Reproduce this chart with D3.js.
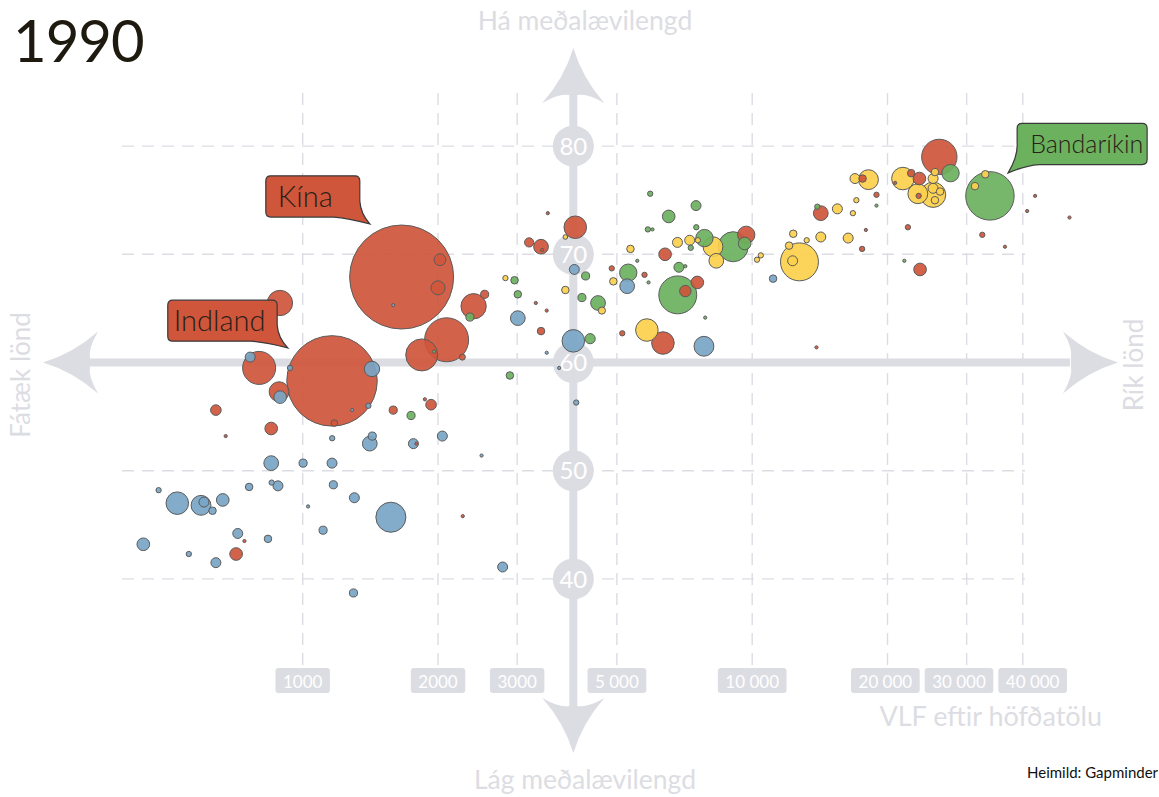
<!DOCTYPE html>
<html>
<head>
<meta charset="utf-8">
<script src="https://cdn.jsdelivr.net/npm/d3@7"></script>
<style>
  html, body { margin: 0; padding: 0; background: #fff; }
  svg { display: block; font-family: Lato, "Open Sans", sans-serif; }
</style>
</head>
<body>
<svg id="chart" width="1159" height="797"></svg>
<script>
// ---------------- DATA ----------------
const year = "1990";
const xTicks = [1000, 2000, 3000, 5000, 10000, 20000, 30000, 40000];
const xTickLabels = ["1000", "2000", "3000", "5 000", "10 000", "20 000", "30 000", "40 000"];
const yTicks = [40, 50, 60, 70, 80];
const yTickLabels = ["40", "50", "60", "70", "80"];

// [GDP per capita, life expectancy, population (millions)]
const asia = [
  [1660, 67.9, 1150], [2020, 69.5, 15], [2000, 66.9, 21], [890, 65.5, 68],
  [1162, 58.3, 870], [800, 59.5, 116], [886, 57.3, 42], [1176, 54.4, 4.7],
  [641, 55.6, 12], [851, 53.9, 17], [1590, 55.6, 7], [1930, 56.1, 12],
  [1840, 60.7, 109], [2090, 62.1, 206], [2400, 65.2, 68], [2540, 66.3, 7],
  [2265, 60.5, 4], [3390, 62.9, 6], [3190, 71.1, 9], [3390, 70.7, 23],
  [4040, 72.5, 54], [6400, 70.0, 17], [4870, 68.7, 3], [5760, 68.1, 3],
  [9700, 71.8, 32], [7100, 66.6, 14], [7550, 67.4, 17], [6330, 61.8, 54],
  [5140, 62.7, 3], [17560, 70.5, 3], [14210, 73.8, 23], [18900, 75.5, 3],
  [17600, 77.0, 6], [22580, 77.5, 6], [23550, 77.0, 17], [23460, 75.4, 3],
  [26080, 79.0, 133], [22200, 72.5, 3], [32500, 71.8, 3], [23630, 68.6, 17],
  [711, 42.3, 17], [1790, 52.5, 1], [2270, 45.8, 1], [3410, 70.4, 1],
  [40900, 74.0, 0.8], [50800, 73.4, 0.8], [36500, 70.7, 0.8], [42600, 75.4, 0.8],
  [17900, 72.25, 0.8], [20800, 76.6, 0.8], [1870, 56.6, 0.8], [674, 53.2, 0.8],
  [742, 43.5, 0.8], [3490, 64.8, 0.8], [3300, 65.5, 0.8], [3510, 73.8, 0.8],
  [13900, 61.4, 0.8]
];
const africa = [
  [764, 60.5, 10.6], [937, 59.5, 3], [891, 56.8, 17], [1426, 59.4, 25],
  [1400, 56.0, 3], [1288, 55.6, 1], [1163, 53.0, 3], [1410, 52.5, 23],
  [1428, 53.2, 7], [1763, 52.5, 10.6], [2045, 53.2, 10.6], [2500, 51.4, 1],
  [851, 50.7, 23], [1002, 50.7, 7], [1162, 50.7, 10.6], [1170, 48.7, 7],
  [1303, 47.5, 10.6], [1571, 45.7, 96], [1110, 44.5, 7], [1028, 46.7, 1],
  [2785, 41.1, 10.6], [1297, 38.7, 7], [478, 48.2, 3], [526, 47.0, 54],
  [594, 46.8, 42], [603, 47.1, 10.6], [630, 46.3, 6], [664, 47.3, 17],
  [760, 48.5, 6], [853, 48.9, 3], [881, 48.6, 10.6], [442, 43.2, 17],
  [558, 42.3, 3], [641, 41.5, 10.6], [717, 44.2, 10.6], [837, 43.7, 6],
  [3010, 64.1, 23], [4020, 68.6, 10.6], [4000, 62.0, 54], [5270, 67.05, 23],
  [7810, 61.5, 42], [11130, 67.75, 6], [4060, 56.3, 3], [1590, 65.3, 1],
  [3720, 59.5, 1], [3490, 60.9, 1]
];
const americas = [
  [1742, 55.1, 7], [2355, 64.2, 7], [2960, 67.6, 6], [3010, 66.3, 6],
  [2890, 58.8, 6], [4260, 68.0, 7], [4180, 66.0, 7], [4540, 65.5, 23],
  [4360, 62.2, 11], [5930, 75.6, 3], [6520, 73.5, 17], [7500, 74.5, 10.6],
  [5860, 72.3, 3], [7510, 72.5, 3], [5300, 68.3, 32], [6870, 68.8, 10.6],
  [7300, 70.6, 3], [7830, 71.5, 32], [9070, 70.7, 96], [9620, 71.0, 17],
  [6830, 66.25, 153], [13960, 74.4, 3], [27620, 77.5, 32], [33800, 75.4, 250],
  [1960, 61.0, 1], [21800, 69.4, 1], [18900, 74.5, 1], [7100, 68.9, 1],
  [6000, 72.3, 1], [5550, 69.4, 1], [5880, 67.4, 1], [7860, 64.15, 1]
];
const europe = [
  [2825, 67.8, 3], [3840, 71.6, 2.3], [3840, 66.7, 6], [4630, 64.8, 5.5],
  [5360, 70.5, 6], [4910, 67.5, 6], [6820, 71.1, 10.6], [7260, 71.3, 10.6],
  [7570, 71.3, 3], [8180, 70.7, 42], [8320, 69.4, 23], [5830, 63.0, 54],
  [12340, 71.9, 6], [13220, 71.3, 3], [12080, 70.8, 6], [14210, 71.6, 10.6],
  [16350, 71.5, 10.6], [10450, 69.9, 3], [10250, 69.5, 3], [12740, 69.3, 153],
  [12300, 69.4, 10.6], [15470, 74.2, 10.6], [17050, 75.0, 3], [16750, 73.8, 3],
  [16930, 77.0, 10.6], [18140, 76.9, 42], [21640, 77.0, 54], [23360, 75.6, 42],
  [25260, 75.5, 68], [25500, 75.0, 6], [25260, 76.1, 10.6], [25260, 77.0, 10.6],
  [25500, 77.6, 6], [26180, 75.8, 6], [33000, 77.4, 6], [31300, 76.3, 6]
];
const regionNames = ["asia", "africa", "americas", "europe"];
const regionColors = ["#cf553b", "#78a5c6", "#6bb15e", "#fdd04c"];

const calloutLabels = ["Kína", "Indland", "Bandaríkin"];
const calloutTargets = [["asia", 0], ["asia", 4], ["americas", 23]];

const axisTitles = {
  top: "Há meðalævilengd", bottom: "Lág meðalævilengd",
  left: "Fátæk lönd", right: "Rík lönd",
  x: "VLF eftir höfðatölu", source: "Heimild: Gapminder"
};

// ---------------- CHART ----------------
const svg = d3.select("#chart");
const AX = "#dcdde3";

const x = d3.scaleLog().domain([1000, 40000]).range([302.7, 302.7 + 449.5 * Math.log10(40)]);
const y = d3.scaleLinear().domain([40, 80]).range([578.9, 146.1]);
const r = d3.scaleSqrt().domain([0, 1150]).range([0, 52]);

const series = { asia, africa, americas, europe };
const color = d3.scaleOrdinal().domain(regionNames).range(regionColors);

// grid
const grid = svg.append("g").attr("stroke", AX).attr("stroke-width", 1.4)
  .attr("stroke-dasharray", "12,8").attr("fill", "none");
grid.selectAll("line.v").data(xTicks).join("line").attr("class", "v")
  .attr("x1", d => x(d)).attr("x2", d => x(d)).attr("y1", 93).attr("y2", 665);
grid.selectAll("line.h").data(yTicks).join("line").attr("class", "h")
  .attr("y1", d => y(d)).attr("y2", d => y(d)).attr("x1", 122).attr("x2", 1025);

// central axes
const cx = x(4000), cy = y(60);
const axes = svg.append("g").attr("fill", AX);
axes.append("rect").attr("x", cx - 4).attr("y", 90).attr("width", 8).attr("height", 620);
axes.append("rect").attr("x", 90).attr("y", cy - 4).attr("width", 980).attr("height", 8);
const head = "M0,0 Q9,30 31,55 Q14,45 4,47 L-4,47 Q-14,45 -31,55 Q-9,30 0,0Z";
axes.append("path").attr("d", head).attr("transform", `translate(${cx},48)`);
axes.append("path").attr("d", head).attr("transform", `translate(${cx},753) rotate(180)`);
axes.append("path").attr("d", head).attr("transform", `translate(43,${cy}) rotate(-90)`);
axes.append("path").attr("d", head).attr("transform", `translate(1118,${cy}) rotate(90)`);

// y tick badges
const yb = svg.append("g");
yb.selectAll("circle").data(yTicks).join("circle")
  .attr("cx", cx).attr("cy", d => y(d)).attr("r", 20.5).attr("fill", AX);
yb.selectAll("text").data(yTicks).join("text")
  .attr("x", cx).attr("y", d => y(d)).attr("dy", "0.36em")
  .attr("text-anchor", "middle").attr("fill", "#fff").attr("font-size", 24)
  .text((d, i) => yTickLabels[i]);

// x tick badges
const xb = svg.append("g");
const xt = xb.selectAll("text").data(xTicks).join("text")
  .attr("x", d => x(d)).attr("y", 687.5)
  .attr("text-anchor", "middle").attr("fill", "#fff").attr("font-size", 17)
  .text((d, i) => xTickLabels[i]);
const boxes = [];
xt.each(function (d) {
  const w = this.getComputedTextLength() + 15;
  boxes.push({ c: x(d), w });
});
for (let it = 0; it < 20; it++) {
  for (let i = 0; i < boxes.length - 1; i++) {
    const a = boxes[i], b = boxes[i + 1];
    const gap = (b.c - b.w / 2) - (a.c + a.w / 2);
    if (gap < 5) { const s = (5 - gap) / 2; a.c -= s; b.c += s; }
  }
}
xb.selectAll("rect").data(boxes).join("rect")
  .attr("x", d => d.c - d.w / 2).attr("y", 668).attr("width", d => d.w).attr("height", 25)
  .attr("rx", 3).attr("fill", AX).lower();
xt.attr("x", (d, i) => boxes[i].c);

// axis titles
const tt = svg.append("g").attr("fill", AX);
tt.append("text").attr("x", 585).attr("y", 30).attr("text-anchor", "middle").attr("font-size", 26.5).text(axisTitles.top);
tt.append("text").attr("x", 585).attr("y", 789).attr("text-anchor", "middle").attr("font-size", 26.5).text(axisTitles.bottom);
tt.append("text").attr("x", 1102).attr("y", 726).attr("text-anchor", "end").attr("font-size", 27).text(axisTitles.x);
tt.append("text").attr("transform", "translate(30,375) rotate(-90)").attr("text-anchor", "middle").attr("font-size", 26).text(axisTitles.left);
tt.append("text").attr("transform", "translate(1143,365) rotate(-90)").attr("text-anchor", "middle").attr("font-size", 26).text(axisTitles.right);

// title & source
svg.append("text").attr("x", 13).attr("y", 62).attr("font-size", 58).attr("letter-spacing", -1)
  .attr("fill", "#1f1a0f").text(year);
svg.append("text").attr("x", 1027).attr("y", 778).attr("font-size", 15).attr("fill", "#111").text(axisTitles.source);

// bubbles
const all = [];
regionNames.forEach(n => series[n].forEach(d => all.push({ region: n, gdp: d[0], life: d[1], pop: d[2] })));
all.sort((a, b) => b.pop - a.pop);
svg.append("g").selectAll("circle").data(all).join("circle")
  .attr("cx", d => x(d.gdp)).attr("cy", d => y(d.life))
  .attr("r", d => Math.max(1.6, r(d.pop)))
  .attr("fill", d => color(d.region)).attr("fill-opacity", 0.92)
  .attr("stroke", "#5b5b5b").attr("stroke-width", 1);

// callouts
function calloutPath(L, T, R, B, tx, ty, side) {
  const k = 5;
  if (side === "right") {
    return `M${L + k},${T} H${R - k} Q${R},${T} ${R},${T + k} V${B - 16}` +
      ` Q${R + 1},${B - 3} ${tx},${ty} Q${R - 12},${B + 1} ${R - 26},${B}` +
      ` H${L + k} Q${L},${B} ${L},${B - k} V${T + k} Q${L},${T} ${L + k},${T}Z`;
  }
  return `M${L + k},${T} H${R - k} Q${R},${T} ${R},${T + k} V${B - k} Q${R},${B} ${R - k},${B}` +
    ` H${L + 22} Q${L + 8},${B + 1} ${tx},${ty} Q${L + 1},${B - 8} ${L},${B - 22}` +
    ` V${T + k} Q${L},${T} ${L + k},${T}Z`;
}
const cl = svg.append("g");
calloutLabels.forEach((lab, i) => {
  const [sn, idx] = calloutTargets[i];
  const d = series[sn][idx];
  const px = x(d[0]), py = y(d[1]), pr = r(d[2]);
  let tx, ty, box, side, pad;
  if (sn === "americas") {
    tx = px + pr * 0.75; ty = py - pr * 0.95;
    box = [tx + 9, ty - 49.5, tx + 139, ty - 8.3]; side = "left"; pad = 13;
  } else {
    const ang = i === 0 ? -2.11 : -2.5;
    tx = px + (pr + 10) * Math.cos(ang); ty = py + (pr + 10) * Math.sin(ang);
    box = i === 0 ? [tx - 104, ty - 48, tx - 10, ty - 6.7] : [tx - 120, ty - 47.7, tx - 10.6, ty - 6.7];
    side = "right"; pad = i === 0 ? 12 : 6;
  }
  cl.append("path").attr("d", calloutPath(box[0], box[1], box[2], box[3], tx, ty, side))
    .attr("fill", color(sn)).attr("stroke", "#3a3a3a").attr("stroke-width", 1.2);
  cl.append("text").attr("x", box[0] + pad).attr("y", (box[1] + box[3]) / 2)
    .attr("dy", "0.36em").attr("font-weight", 300)
    .attr("font-size", sn === "americas" ? 25 : 29).attr("fill", "#2a2016").text(lab);
});
</script>
</body>
</html>
